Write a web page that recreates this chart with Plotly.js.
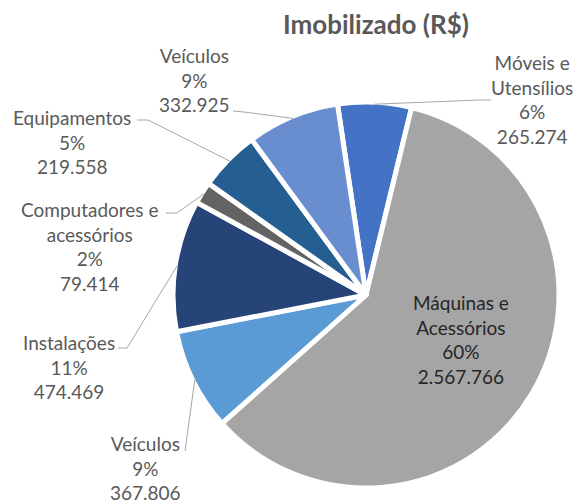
<!DOCTYPE html>
<html>
<head>
<meta charset="utf-8">
<script src="https://cdn.plot.ly/plotly-3.0.1.min.js"></script>
<style>
  html, body { margin: 0; padding: 0; background: #ffffff; }
  #chart { width: 577px; height: 504px; }
</style>
</head>
<body>
<div id="chart"></div>
<script>
// ---- data ----
const categories = ['Móveis e Utensílios', 'Máquinas e Acessórios', 'Veículos', 'Instalações',
                    'Computadores e acessórios', 'Equipamentos', 'Veículos'];
const values = [265274, 2567766, 367806, 474469, 79414, 219558, 332925];
const percentLabels = ['6%', '60%', '9%', '11%', '2%', '5%', '9%'];
const chartTitle = 'Imobilizado (R$)';

// ---- styles / layout ----
const colors = ['#4472C4', '#A5A5A5', '#5B9BD5', '#264478', '#636363', '#255E91', '#698ED0'];
const W = 577, H = 504;
const cx = 366, cy = 295, R = 193;       // pie centre and radius in pixels
const rotation = -8.5;

// label centres (px) and leader-line start/elbow points (px), per slice
const labelCentres = [[532, 100], [461, 339], [146, 468], [69, 367], [90, 246], [72, 142], [194, 80]];
const leaderStarts = [
  [[491, 100], [480, 100]],
  null,
  [[185, 451]],
  [[118, 348], [127, 348]],
  [[166, 213], [177, 213]],
  [[137, 120], [148, 120]],
  [[233, 111], [244, 112]]
];
const labelColors = ['#595959', '#262626', '#595959', '#595959', '#595959', '#595959', '#595959'];

function fmt(v) {
  return String(v).replace(/\B(?=(\d{3})+(?!\d))/g, '.');
}
function wrap(name) {
  return name.replace(' e ', ' e<br>');
}
const px = x => x / W;
const py = y => 1 - y / H;

const total = values.reduce((a, b) => a + b, 0);

const trace = {
  type: 'pie',
  labels: categories.map((c, i) => i + ' ' + c),
  values: values,
  sort: false,
  direction: 'clockwise',
  rotation: rotation,
  textinfo: 'none',
  hoverinfo: 'none',
  showlegend: false,
  marker: { colors: colors, line: { color: '#ffffff', width: 5 } },
  domain: { x: [px(cx - R), px(cx + R)], y: [py(cy + R), py(cy - R)] }
};

const annotations = [];
const shapes = [];
let cum = 0;
values.forEach((v, i) => {
  const mid = (rotation + 360 * (cum + v / 2) / total) * Math.PI / 180;
  cum += v;
  const text = wrap(categories[i]) + '<br>' + percentLabels[i] + '<br>' + fmt(v);
  annotations.push({
    x: px(labelCentres[i][0]), y: py(labelCentres[i][1]),
    xref: 'paper', yref: 'paper', xanchor: 'center', yanchor: 'middle',
    showarrow: false, align: 'center', text: text,
    font: { family: 'Lato, sans-serif', size: 19, color: labelColors[i] }
  });
  if (leaderStarts[i]) {
    const rr = R - 2;
    const ax = cx + rr * Math.sin(mid), ay = cy - rr * Math.cos(mid);
    const pts = leaderStarts[i].concat([[ax, ay]]);
    const path = pts.map((p, k) => (k ? 'L' : 'M') + px(p[0]) + ',' + py(p[1])).join(' ');
    shapes.push({ type: 'path', xref: 'paper', yref: 'paper', path: path,
                  line: { color: '#A6A6A6', width: 1 } });
  }
});

annotations.push({
  x: px(376), y: py(24), xref: 'paper', yref: 'paper', xanchor: 'center', yanchor: 'middle',
  showarrow: false, text: '<b>' + chartTitle + '</b>',
  font: { family: 'Lato, sans-serif', size: 26, color: '#595959' }
});

const layout = {
  width: W, height: H,
  margin: { l: 0, r: 0, t: 0, b: 0 },
  paper_bgcolor: '#ffffff',
  plot_bgcolor: '#ffffff',
  annotations: annotations,
  shapes: shapes
};

Plotly.newPlot('chart', [trace], layout, { staticPlot: true, displayModeBar: false });
</script>
</body>
</html>
